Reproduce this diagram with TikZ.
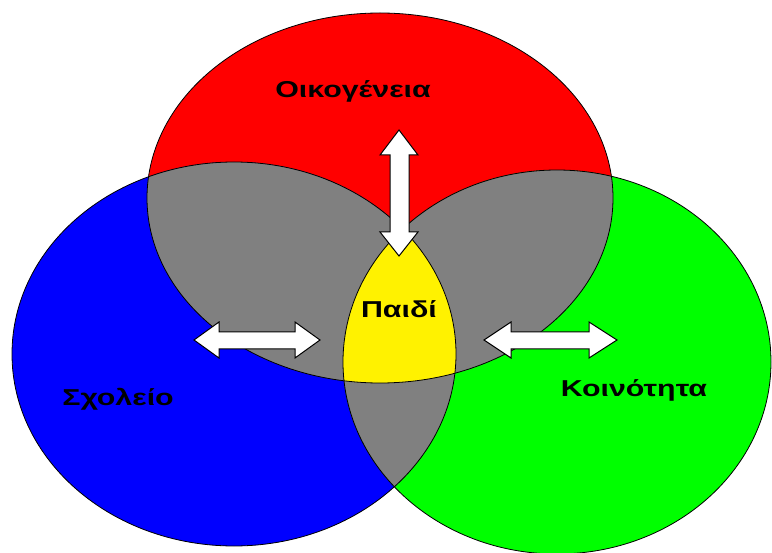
\documentclass[tikz,border=0pt]{standalone}
\usepackage{fontspec}
\setmainfont{Liberation Sans}

\begin{document}
\begin{tikzpicture}[x=1pt, y=-1pt,
    outline/.style={black, line width=0.8pt},
    arrowbox/.style={black, line width=1pt, fill=white, line join=miter},
    region/.style={font=\bfseries\fontsize{23}{27}\selectfont, xscale=1.32, anchor=base, inner sep=0pt}]

    \useasboundingbox (0,0) rectangle (772,553);

    % centres of the circles
    \coordinate (family) at (380,198);
    \coordinate (school) at (234,354);
    \coordinate (commun) at (557,362);

    % fill circles
    \fill[red] (family) ellipse (233 and 185);
    \fill[blue] (school) ellipse (222 and 192);
    \fill[green] (commun) ellipse (214 and 192);

    % pairwise overlaps
    \begin{scope}
        \clip (family) ellipse (233 and 185);
        \fill[gray] (school) ellipse (222 and 192);
        \fill[gray] (commun) ellipse (214 and 192);
    \end{scope}
    \begin{scope}
        \clip (school) ellipse (222 and 192);
        \fill[gray] (commun) ellipse (214 and 192);
    \end{scope}

    % centre overlap
    \begin{scope}
        \clip (family) ellipse (233 and 185);
        \clip (school) ellipse (222 and 192);
        \fill[yellow] (commun) ellipse (214 and 192);
    \end{scope}

    % draw outlines
    \draw[outline] (family) ellipse (233 and 185);
    \draw[outline] (school) ellipse (222 and 192);
    \draw[outline] (commun) ellipse (214 and 192);

    % draw arrows
    \draw[arrowbox] (399,130) -- (418,155) -- (409,155) -- (409,232) -- (418,232) -- (399,256)
        -- (380,232) -- (390,232) -- (390,155) -- (380,155) -- cycle;
    \draw[arrowbox] (194,340) -- (219,322) -- (219,332) -- (295,332) -- (295,322) -- (320,340)
        -- (295,358) -- (295,349) -- (219,349) -- (219,358) -- cycle;
    \draw[arrowbox] (484,340) -- (511,322) -- (511,332) -- (589,332) -- (589,322) -- (617,340)
        -- (589,358) -- (589,349) -- (511,349) -- (511,358) -- cycle;

    % add labels
    \node[region] (famlabel) at (353,98) {Οικογένεια};
    \node[region] (schlabel) at (118,406) {Σχολείο};
    \node[region] (comlabel) at (634,397) {Κοινότητα};
    \node[region] (childlabel) at (399,318) {Παιδί};

\end{tikzpicture}
\end{document}
